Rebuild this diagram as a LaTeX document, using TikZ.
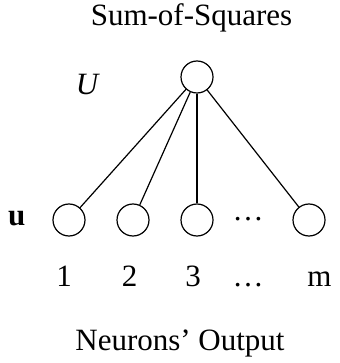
\documentclass[tikz,border=0pt]{standalone}
\usepackage{fontspec}
\setmainfont{Liberation Serif}
\begin{document}
\begin{tikzpicture}[x=1pt,y=-1pt,
  neuron/.style={circle,draw,line width=1.2pt,minimum size=32pt,inner sep=0pt},
  lbl/.style={inner sep=0pt,anchor=base,font=\fontsize{31}{37}\selectfont},
  link/.style={line width=1.2pt}]
\useasboundingbox (0,0) rectangle (339,363);
\node[neuron] (top) at (197,77) {};
\node[neuron] (n1) at (69,220) {};
\node[neuron] (n2) at (133,220) {};
\node[neuron] (n3) at (197,220) {};
\node[neuron] (nm) at (309,220) {};
\draw[link] (top) -- (n1);
\draw[link] (top) -- (n2);
\draw[link] (top) -- (n3);
\draw[link] (top) -- (nm);
\node[lbl] (title) at (191.5,25.5) {Sum-of-Squares};
\node[lbl] (U) at (87,95) {\itshape U};
\node[lbl] (u) at (16.7,225) {\bfseries u};
\node[lbl] (dots) at (248,220) {…};
\node[lbl] (l1) at (64,286) {1};
\node[lbl] (l2) at (129.5,286) {2};
\node[lbl] (l3) at (193,286) {3};
\node[lbl] (ld) at (248,286) {…};
\node[lbl] (lm) at (319.5,286) {m};
\node[lbl] (out) at (180,350) {Neurons’ Output};
\end{tikzpicture}
\end{document}
